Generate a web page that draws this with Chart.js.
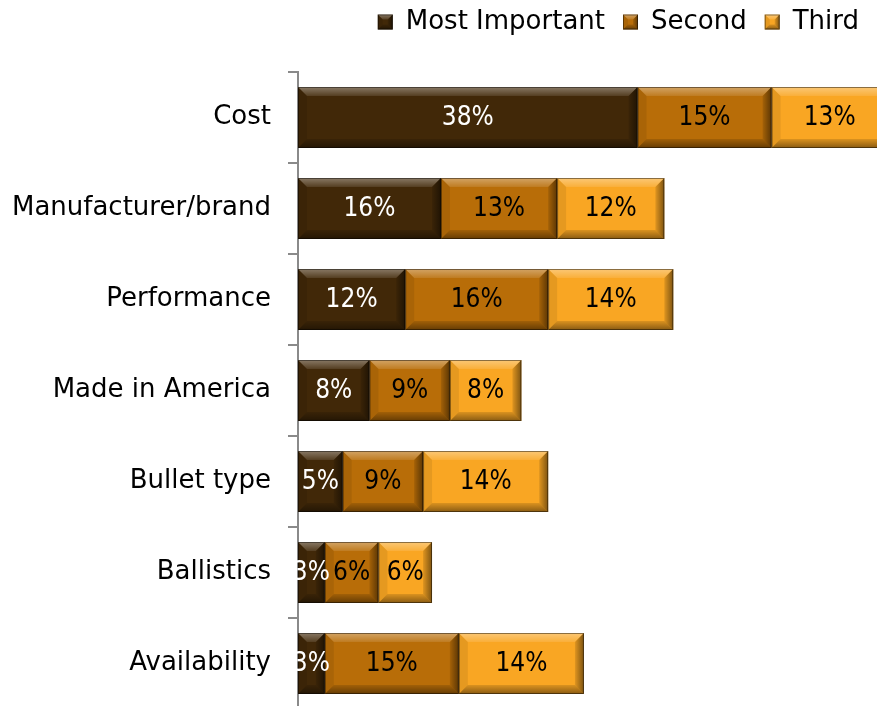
<!DOCTYPE html>
<html>
<head>
<meta charset="utf-8">
<title>Purchase factors</title>
<script src="https://cdn.jsdelivr.net/npm/chart.js@4.4.1/dist/chart.umd.min.js"></script>
<style>
  html, body { margin: 0; padding: 0; background: #fff; overflow: hidden; }
  #wrap { position: relative; width: 877px; height: 709px; }
</style>
</head>
<body>
<div id="wrap"><canvas id="factorChart"></canvas></div>
<script>
const categories = ['Cost', 'Manufacturer/brand', 'Performance', 'Made in America', 'Bullet type', 'Ballistics', 'Availability'];
const mostImportant = [38, 16, 12, 8, 5, 3, 3];
const second = [15, 13, 16, 9, 9, 6, 15];
const third = [13, 12, 14, 8, 14, 6, 14];
const seriesNames = ['Most Important', 'Second', 'Third'];
const seriesColors = ['#412808', '#b86d08', '#f9a623'];
const valueColors = ['#ffffff', '#000000', '#000000'];

const axisFont = '"DejaVu Sans", Verdana, sans-serif';
const valueFont = '"Liberation Sans Narrow", "DejaVu Sans Condensed", "DejaVu Sans", sans-serif';

// fill a closed polygon
function poly(ctx, pts, fill) {
	ctx.beginPath();
	ctx.moveTo(pts[0][0], pts[0][1]);
	for (var i = 1; i < pts.length; i++) ctx.lineTo(pts[i][0], pts[i][1]);
	ctx.closePath();
	ctx.fillStyle = fill;
	ctx.fill();
}

// raised look: light top edge, dark bottom/right edges
function bevel(ctx, x0, y0, x1, y1, size) {
	const b = Math.min(size, (x1 - x0) / 2, (y1 - y0) / 2);
	let g = ctx.createLinearGradient(0, y0, 0, y0 + b);
	g.addColorStop(0, 'rgba(255,255,255,0.38)');
	g.addColorStop(1, 'rgba(255,255,255,0.10)');
	poly(ctx, [[x0, y0], [x1, y0], [x1 - b, y0 + b], [x0 + b, y0 + b]], g);

	g = ctx.createLinearGradient(0, y1 - b, 0, y1);
	g.addColorStop(0, 'rgba(0,0,0,0.12)');
	g.addColorStop(1, 'rgba(0,0,0,0.45)');
	poly(ctx, [[x0, y1], [x1, y1], [x1 - b, y1 - b], [x0 + b, y1 - b]], g);

	poly(ctx, [[x0, y0], [x0 + b, y0 + b], [x0 + b, y1 - b], [x0, y1]], 'rgba(0,0,0,0.08)');

	g = ctx.createLinearGradient(x1 - b, 0, x1, 0);
	g.addColorStop(0, 'rgba(0,0,0,0.10)');
	g.addColorStop(1, 'rgba(0,0,0,0.50)');
	poly(ctx, [[x1, y0], [x1 - b, y0 + b], [x1 - b, y1 - b], [x1, y1]], g);

	ctx.strokeStyle = 'rgba(0,0,0,0.45)';
	ctx.lineWidth = 1;
	ctx.strokeRect(x0 + 0.5, y0 + 0.5, x1 - x0 - 1, y1 - y0 - 1);
}

// bevels on every bar segment, then the percentage inside it
const barDecor = {
	id: 'barDecor',
	afterDatasetsDraw(chart) {
		const ctx = chart.ctx;
		const area = chart.chartArea;
		ctx.save();
		ctx.beginPath();
		ctx.rect(area.left, area.top, area.right - area.left, area.bottom - area.top);
		ctx.clip();
		chart.data.datasets.forEach(function (ds, i) {
			chart.getDatasetMeta(i).data.forEach(function (bar) {
				const x0 = Math.min(bar.base, bar.x), x1 = Math.max(bar.base, bar.x);
				bevel(ctx, x0, bar.y - bar.height / 2, x1, bar.y + bar.height / 2, 9);
			});
		});
		ctx.restore();

		ctx.save();
		ctx.font = '26px ' + valueFont;
		ctx.textAlign = 'center';
		ctx.textBaseline = 'middle';
		chart.data.datasets.forEach(function (ds, i) {
			ctx.fillStyle = valueColors[i];
			chart.getDatasetMeta(i).data.forEach(function (bar, j) {
				ctx.fillText(ds.data[j] + '%', (bar.base + bar.x) / 2, bar.y + 1);
			});
		});
		ctx.restore();
	}
};

// small bevels on the legend swatches, and room under the legend
const legendDecor = {
	id: 'legendDecor',
	beforeInit(chart) {
		const fit = chart.legend.fit;
		chart.legend.fit = function () {
			fit.bind(chart.legend)();
			this.height += 27;
		};
	},
	afterDraw(chart) {
		const lg = chart.legend;
		const ctx = chart.ctx;
		const bw = lg.options.labels.boxWidth, bh = lg.options.labels.boxHeight;
		ctx.save();
		lg.legendHitBoxes.forEach(function (hb) {
			const y0 = hb.top + (hb.height - bh) / 2;
			bevel(ctx, hb.left, y0, hb.left + bw, y0 + bh, 5);
		});
		ctx.restore();
	}
};

createChart();

function createChart() {
	const ctx = document.getElementById('factorChart').getContext('2d');
	const series = [mostImportant, second, third];
	new Chart(ctx, {
		type: 'bar',
		data: {
			labels: categories,
			datasets: series.map(function (values, i) {
				return {
					label: seriesNames[i],
					data: values,
					backgroundColor: seriesColors[i],
					borderWidth: 0,
					categoryPercentage: 1,
					barPercentage: 0.67
				};
			})
		},
		plugins: [barDecor, legendDecor],
		options: {
			indexAxis: 'y',
			responsive: true,
			maintainAspectRatio: false,
			animation: false,
			layout: { padding: { top: -9, right: 0, bottom: 0, left: 0 } },
			plugins: {
				tooltip: { enabled: false },
				legend: {
					position: 'top',
					align: 'end',
					labels: {
						boxWidth: 15,
						boxHeight: 15,
						padding: 18,
						color: '#000',
						font: { family: axisFont, size: 26 }
					}
				}
			},
			scales: {
				x: {
					stacked: true,
					display: false,
					min: 0,
					max: 64.8
				},
				y: {
					stacked: true,
					afterFit(scale) {
						scale.width = 298;
						scale.paddingTop = 0;
						scale.paddingBottom = 0;
					},
					grid: {
						drawOnChartArea: false,
						drawTicks: true,
						tickLength: 10,
						color: '#8a8a8a',
						lineWidth: 2,
						offset: true
					},
					border: { color: '#8a8a8a', width: 2 },
					ticks: {
						color: '#000',
						padding: 17,
						font: { family: axisFont, size: 26 }
					}
				}
			}
		}
	});
}
</script>
</body>
</html>
